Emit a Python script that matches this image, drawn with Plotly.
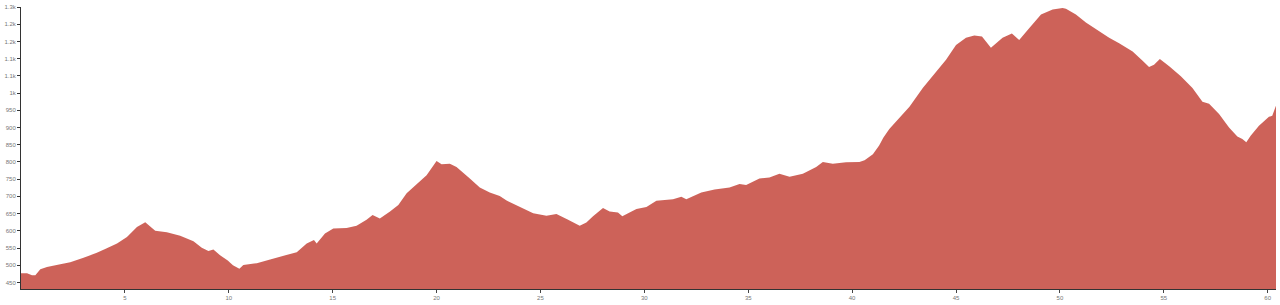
import plotly.graph_objects as go

distance_km = [
    0.00, 0.29, 0.53, 0.69, 0.93, 1.25, 1.89, 2.37, 3.01, 3.65, 4.13, 4.62,
    5.10, 5.58, 5.98, 6.46, 7.02, 7.66, 8.30, 8.70, 9.02, 9.26, 9.58, 9.95,
    10.20, 10.51, 10.70, 11.35, 11.99, 12.63, 13.27, 13.75, 14.10, 14.23,
    14.63, 15.03, 15.67, 16.15, 16.63, 16.92, 17.27, 17.76, 18.16, 18.56,
    19.12, 19.52, 20.00, 20.24, 20.64, 20.96, 21.60, 22.08, 22.56, 23.04,
    23.37, 24.00, 24.65, 25.29, 25.77, 26.33, 26.89, 27.21, 27.53, 28.01,
    28.33, 28.73, 28.94, 29.29, 29.62, 30.10, 30.58, 31.38, 31.78, 32.02,
    32.74, 33.38, 34.10, 34.58, 34.90, 35.54, 36.02, 36.50, 36.99, 37.63,
    38.27, 38.59, 39.07, 39.71, 40.35, 40.60, 41.00, 41.30, 41.50, 41.79,
    42.27, 42.76, 43.40, 44.04, 44.52, 45.00, 45.48, 45.88, 46.25, 46.68,
    47.24, 47.69, 48.04, 48.52, 49.09, 49.65, 50.13, 50.29, 50.77, 51.25,
    51.89, 52.37, 52.85, 53.50, 53.98, 54.29, 54.53, 54.81, 55.26, 55.82,
    56.38, 56.86, 57.18, 57.66, 58.14, 58.54, 58.78, 58.97, 59.18, 59.58,
    60.06, 60.22, 60.38, 60.40,
]
elevation_m = [
    477, 477, 471, 471, 488, 495, 503, 509, 522, 536, 549, 563,
    582, 611, 625, 600, 596, 586, 570, 551, 541, 546, 529, 514,
    500, 490, 501, 506, 517, 527, 538, 563, 573, 563,
    592, 607, 608, 615, 632, 646, 636, 656, 675, 709,
    738, 761, 803, 793, 795, 785, 752, 726, 711, 701,
    688, 670, 651, 644, 649, 632, 615, 624, 642, 666,
    656, 653, 642, 653, 663, 669, 687, 692, 699, 692,
    711, 720, 726, 736, 733, 752, 755, 766, 757, 766,
    785, 800, 795, 799, 800, 805, 822, 848, 870, 896,
    927, 960, 1015, 1063, 1097, 1140, 1161, 1167, 1164, 1132,
    1161, 1173, 1154, 1188, 1228, 1243, 1247, 1245, 1228, 1205,
    1180, 1161, 1145, 1121, 1094, 1076, 1082, 1099, 1078, 1049,
    1015, 975, 969, 939, 900, 874, 867, 857, 876, 905,
    931, 934, 960, 963,
]

x_tick_values = [5, 10, 15, 20, 25, 30, 35, 40, 45, 50, 55, 60]
y_tick_values = [450, 500, 550, 600, 650, 700, 750, 800, 850, 900, 950,
                 1000, 1050, 1100, 1150, 1200, 1250]
y_tick_labels = ["450", "500", "550", "600", "650", "700", "750", "800", "850",
                 "900", "950", "1k", "1.1k", "1.1k", "1.2k", "1.2k", "1.3k"]

fig = go.Figure(
    go.Scatter(
        x=distance_km,
        y=elevation_m,
        mode="lines",
        line=dict(width=0, color="rgba(196,70,60,0.85)"),
        fill="tozeroy",
        fillcolor="rgba(196,70,60,0.85)",
        hoverinfo="x+y",
    )
)

tick_font = dict(family="Liberation Sans, Arial, sans-serif", size=6, color="#777")

fig.update_layout(
    width=1280,
    height=305,
    margin=dict(l=19, r=4, t=5, b=15),
    paper_bgcolor="white",
    plot_bgcolor="white",
    showlegend=False,
    xaxis=dict(
        range=[0, 60.4],
        tickvals=x_tick_values,
        tickfont=tick_font,
        ticks="outside",
        ticklen=3,
        tickcolor="#444",
        showline=True,
        linecolor="#333",
        linewidth=1,
        showgrid=False,
        zeroline=False,
        layer="below traces",
    ),
    yaxis=dict(
        range=[431, 1250],
        tickvals=y_tick_values,
        ticktext=y_tick_labels,
        tickfont=tick_font,
        ticks="outside",
        ticklen=3,
        tickcolor="#333",
        showline=True,
        linecolor="#333",
        linewidth=1,
        showgrid=False,
        zeroline=False,
    ),
)

fig.write_html("out.html")
